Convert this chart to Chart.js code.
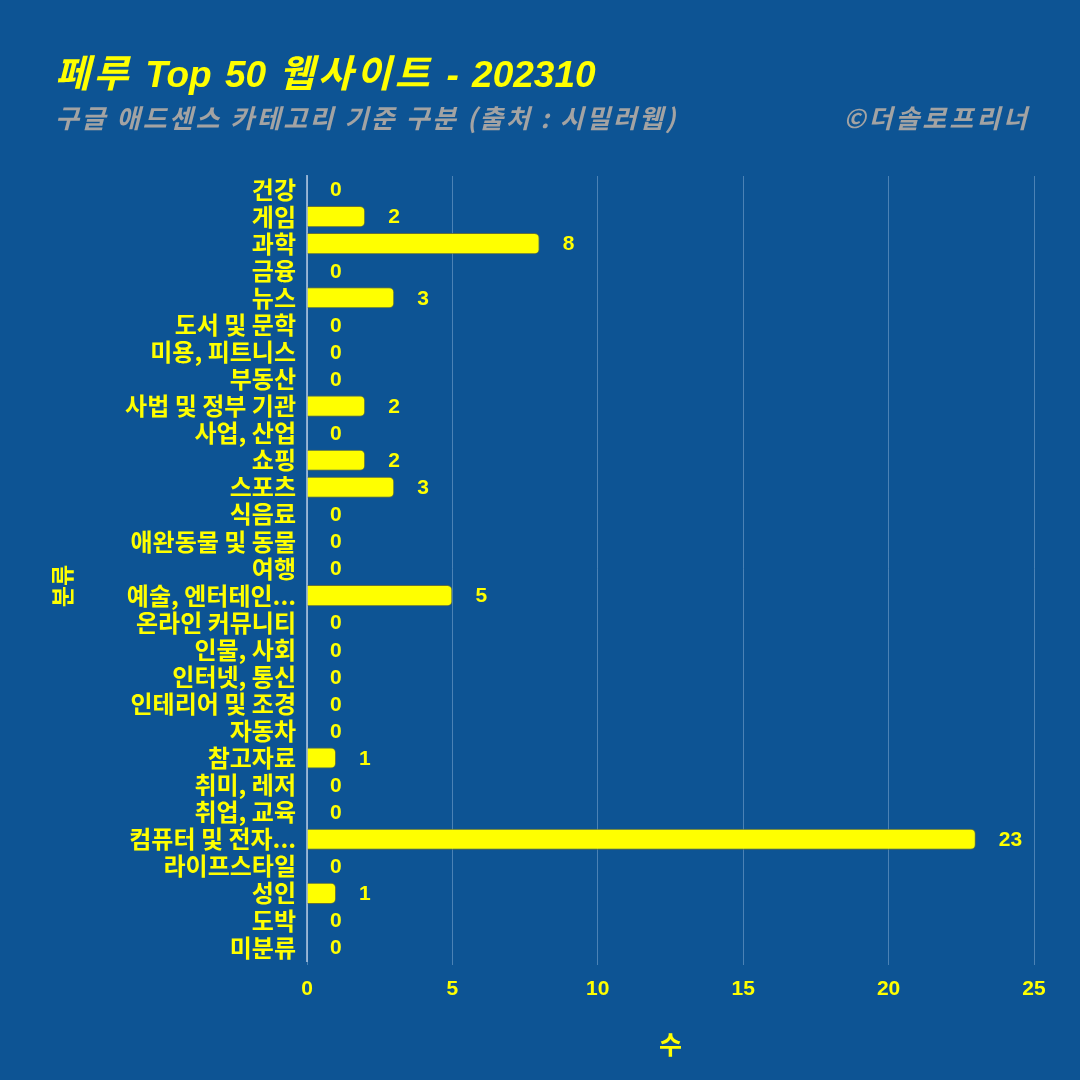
<!DOCTYPE html>
<html>
<head>
<meta charset="utf-8">
<script src="https://cdn.jsdelivr.net/npm/chart.js@4"></script>
<style>
  html, body { margin: 0; padding: 0; background: #0d5494; }
  #wrap { position: relative; width: 1080px; height: 1080px; }
  .txt { position: absolute; white-space: nowrap; font-style: italic; font-weight: bold; line-height: 1; }
  .ko { font-family: "Noto Sans CJK KR", sans-serif; }
  #title { left: 55px; top: 52px; font-size: 37px; word-spacing: 3px; color: #ffff00; font-family: "Liberation Sans", "Noto Sans CJK KR", sans-serif; }
  #title .ko { font-size: 38px; letter-spacing: 3.5px; }
  #sub { left: 55px; top: 104px; font-size: 26px; letter-spacing: 2.5px; color: #a3a3a3; font-family: "Noto Sans CJK KR", sans-serif; }
  #copy { right: 50px; top: 104px; font-size: 26px; letter-spacing: 3px; color: #a3a3a3; font-family: "Noto Sans CJK KR", sans-serif; }
</style>
</head>
<body>
<div id="wrap">
  <canvas id="chart" width="1080" height="1080"></canvas>
  <div class="txt" id="title"><span class="ko">페루</span> Top 50 <span class="ko">웹사이트</span> - 202310</div>
  <div class="txt" id="sub">구글 애드센스 카테고리 기준 구분 (출처 : 시밀러웹)</div>
  <div class="txt" id="copy">©더솔로프리너</div>
</div>
<script>
  /* categories and counts */
  var CATEGORIES = [
    '건강', '게임', '과학', '금융', '뉴스', '도서 및 문학', '미용, 피트니스', '부동산',
    '사법 및 정부 기관', '사업, 산업', '쇼핑', '스포츠', '식음료', '애완동물 및 동물', '여행',
    '예술, 엔터테인먼트', '온라인 커뮤니티', '인물, 사회', '인터넷, 통신', '인테리어 및 조경',
    '자동차', '참고자료', '취미, 레저', '취업, 교육', '컴퓨터 및 전자제품', '라이프스타일',
    '성인', '도박', '미분류'
  ];
  var COUNTS = [
    0, 2, 8, 0, 3, 0, 0, 0,
    2, 0, 2, 3, 0, 0, 0,
    5, 0, 0, 0, 0,
    0, 1, 0, 0, 23, 0,
    1, 0, 0
  ];
  var X_TICKS = [0, 5, 10, 15, 20, 25];
  var X_TITLE = '수';
  var Y_TITLE = '분류';

  var YELLOW = '#ffff00';
  var NUM_FONT = '"Liberation Sans", "Noto Sans CJK KR", sans-serif';
  var KO_FONT = '"Noto Sans CJK KR", "Liberation Sans", sans-serif';

  /* value labels to the right of every bar + y axis title placed by hand */
  var extras = {
    id: 'extras',
    afterDatasetsDraw: function (chart) {
      var ctx = chart.ctx;
      var meta = chart.getDatasetMeta(0);
      ctx.save();
      ctx.fillStyle = YELLOW;
      ctx.font = 'bold 21px ' + NUM_FONT;
      ctx.textAlign = 'left';
      ctx.textBaseline = 'middle';
      meta.data.forEach(function (bar, i) {
        ctx.fillText(String(COUNTS[i]), bar.x + 23, bar.y + 1);
      });

      ctx.translate(62, 586);
      ctx.rotate(-Math.PI / 2);
      ctx.textAlign = 'center';
      ctx.font = 'bold 23px ' + KO_FONT;
      ctx.fillText(Y_TITLE, 0, 0);
      ctx.restore();
    }
  };

  new Chart(document.getElementById('chart'), {
    type: 'bar',
    data: {
      labels: CATEGORIES,
      datasets: [{
        data: COUNTS,
        backgroundColor: YELLOW,
        borderColor: 'rgba(110,115,50,0.9)',
        borderWidth: 1,
        borderRadius: 5,
        barPercentage: 0.78,
        categoryPercentage: 1.0
      }]
    },
    plugins: [extras],
    options: {
      indexAxis: 'y',
      responsive: false,
      animation: false,
      layout: { padding: { left: 40, right: 46, top: 176, bottom: 15 } },
      plugins: {
        legend: { display: false },
        tooltip: { enabled: false }
      },
      scales: {
        x: {
          min: 0,
          max: 25,
          afterBuildTicks: function (scale) {
            scale.ticks = X_TICKS.map(function (v) { return { value: v }; });
          },
          afterFit: function (scale) { scale.height = 104; },
          grid: { color: 'rgba(170,200,230,0.4)', lineWidth: 1, drawTicks: true, tickLength: 4 },
          border: { display: false },
          ticks: {
            color: YELLOW,
            padding: 12,
            font: { family: NUM_FONT, size: 21, weight: 'bold' }
          },
          title: {
            display: true,
            text: X_TITLE,
            color: YELLOW,
            padding: { top: 0, bottom: 6 },
            font: { family: KO_FONT, size: 25, weight: 'bold' }
          }
        },
        y: {
          afterFit: function (scale) { scale.width = 267; },
          grid: { display: false, drawTicks: false },
          border: { display: true, color: 'rgba(180,200,225,0.75)', width: 2 },
          ticks: {
            color: YELLOW,
            padding: 11,
            autoSkip: false,
            font: { family: KO_FONT, size: 24, weight: 'bold' },
            callback: function (v) {
              var s = CATEGORIES[v];
              return s.replace(/ /g, '').length > 7 ? s.slice(0, 8) + '...' : s;
            }
          }
        }
      }
    }
  });
</script>
</body>
</html>
